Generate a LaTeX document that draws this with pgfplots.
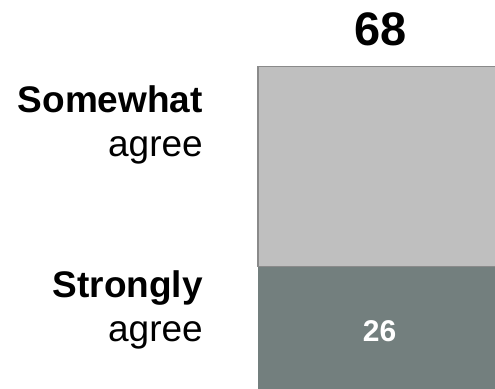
\documentclass[border=0pt]{standalone}
\usepackage{pgfplots}
\pgfplotsset{compat=1.18}
\usepackage{fontspec}
\setmainfont{Liberation Sans}

\definecolor{strongc}{HTML}{737F7E}
\definecolor{somec}{HTML}{BFBFBF}
\definecolor{edgec}{HTML}{8A8A8A}

\begin{document}
\begin{tikzpicture}
\begin{axis}[
    scale only axis,
    width=495bp, height=389bp,
    xmin=0, xmax=495,
    ymin=0.31, ymax=82.0,
    hide axis,
    clip=false,
    ybar stacked,
    bar width=300,
]
  % Strongly agree
  \addplot[fill=strongc, draw=none] coordinates {(408,26)};
  % Somewhat agree
  \addplot[fill=somec, draw=edgec, line width=1.2bp] coordinates {(408,42)};

  % anchor points for the labels
  \coordinate (v26) at (axis cs:379.5,10.18);
  \coordinate (v68) at (axis cs:380.5,72.4);
  \coordinate (l1) at (axis cs:203,58.27);
  \coordinate (l2) at (axis cs:203,49.14);
  \coordinate (l3) at (axis cs:203,19.42);
  \coordinate (l4) at (axis cs:203,10.25);
\end{axis}

\node[anchor=base, font=\bfseries\fontsize{30bp}{36bp}\selectfont, text=white, inner sep=0pt]
  at (v26) {26};
\node[anchor=base, font=\bfseries\fontsize{47bp}{56bp}\selectfont, inner sep=0pt]
  at (v68) {68};
\node[anchor=base east, font=\bfseries\fontsize{37bp}{44bp}\selectfont, inner sep=0pt]
  at (l1) {Somewhat};
\node[anchor=base east, font=\fontsize{37bp}{44bp}\selectfont, inner sep=0pt]
  at (l2) {agree};
\node[anchor=base east, font=\bfseries\fontsize{37bp}{44bp}\selectfont, inner sep=0pt]
  at (l3) {Strongly};
\node[anchor=base east, font=\fontsize{37bp}{44bp}\selectfont, inner sep=0pt]
  at (l4) {agree};

\pgfresetboundingbox
\useasboundingbox (current axis.south west) rectangle (current axis.north east);
\end{tikzpicture}
\end{document}
